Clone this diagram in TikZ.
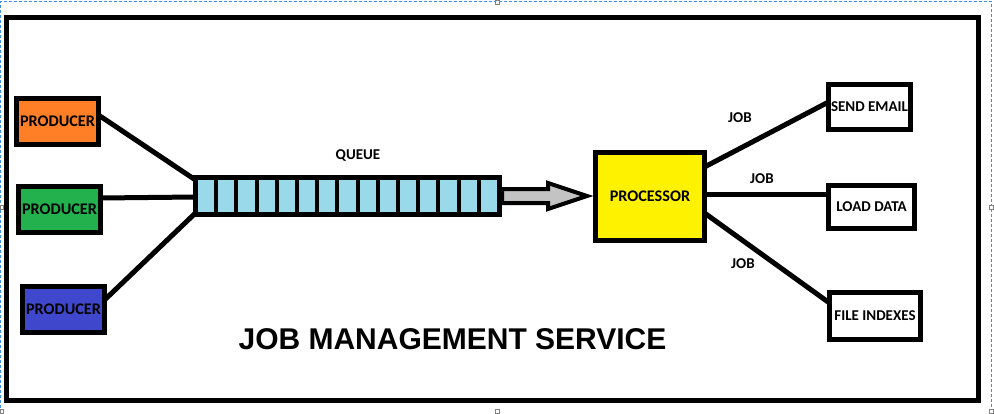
\documentclass[tikz,border=0pt]{standalone}
\usepackage{fontspec}
\newfontfamily\labelfont{Carlito}
\newfontfamily\titlefont{Liberation Sans}
\definecolor{porange}{HTML}{FF7F27}
\definecolor{pgreen}{HTML}{22B14C}
\definecolor{pblue}{HTML}{3F48CC}
\definecolor{pqueue}{HTML}{99D9EA}
\definecolor{pyellow}{HTML}{FFF200}
\definecolor{pgrey}{HTML}{C3C3C3}
\definecolor{selblue}{HTML}{3C8FE6}
\begin{document}
\begin{tikzpicture}[x=1pt,y=-1pt,
  box/.style={draw=black, line width=5pt, rectangle, inner sep=0pt, outer sep=0pt,
    font=\labelfont\bfseries\fontsize{15}{18}\selectfont},
  bigtext/.style={font=\labelfont\bfseries\fontsize{16.2}{19}\selectfont},
  lbl/.style={inner sep=0pt, font=\labelfont\bfseries\fontsize{15}{18}\selectfont},
  link/.style={line width=5pt},
  divider/.style={line width=4pt},
  arrowbody/.style={draw=black, line width=4pt, fill=pgrey, line join=miter},
  selframe/.style={draw=selblue, line width=0.8pt, dash pattern=on 3pt off 2pt},
  handle/.style={draw=gray, line width=0.6pt, fill=white}]
\useasboundingbox (0,0) rectangle (994,413);
\fill[white] (0,0) rectangle (994,413);
% selection frame of the editor
\draw[selframe] (0.8,413) -- (0.8,1) -- (991,1) -- (991,413);
\draw[handle] (495,0) rectangle (499,4);
\draw[handle] (0,205) rectangle (3,209);
\draw[handle] (989,205) rectangle (993,209);
\draw[handle] (495,409) rectangle (499,413);
\draw[handle] (0,409) rectangle (3,413);
\draw[handle] (989,409) rectangle (993,413);
% outer frame
\draw[line width=5pt] (6.5,17.5) rectangle (978.5,400.5);
% producers
\node[box, bigtext, fill=porange, minimum width=82pt, minimum height=46pt] (orange) at (57.5,121.5) {PRODUCER};
\node[box, bigtext, fill=pgreen, minimum width=82pt, minimum height=46pt] (green) at (59.5,209.5) {PRODUCER};
\node[box, bigtext, fill=pblue, minimum width=82pt, minimum height=46pt] (blue) at (63.5,309.5) {PRODUCER};
% queue
\node[box, fill=pqueue, minimum width=304pt, minimum height=37pt] (queue) at (347.5,196) {};
\foreach \k in {1,...,14}
  \draw[divider] ([xshift={0.5pt+20.2pt*\k}]queue.north west) -- ([xshift={0.5pt+20.2pt*\k}]queue.south west);
\node[lbl] (qlabel) at (358,156) {QUEUE};
% processor
\node[box, bigtext, fill=pyellow, minimum width=109pt, minimum height=88pt] (proc) at (650,196.5) {PROCESSOR};
% arrow queue -> processor
\draw[arrowbody] ([shift={(2.5,-7)}]queue.east) -- ++(46,0) -- ++(0,-6) -- ++(39,13) -- ++(-39,13) -- ++(0,-6) -- ++(-46,0) -- cycle;
% jobs
\node[box, fill=white, minimum width=82pt, minimum height=45pt] (email) at (869.5,107) {SEND EMAIL};
\node[box, fill=white, minimum width=86pt, minimum height=43pt] (load) at (871.5,207) {LOAD DATA};
\node[box, fill=white, minimum width=91pt, minimum height=47pt] (files) at (875,316) {FILE INDEXES};
% connectors
\draw[link] ([yshift=6.5pt]orange.east) -- ([yshift=16pt]queue.west);
\draw[link] ([yshift=11.5pt]green.east) -- ([yshift=-1pt]queue.west);
\draw[link] ([yshift=9.5pt]blue.east) -- ([yshift=-17pt]queue.west);
\draw[link] ([yshift=29.5pt]proc.east) -- ([yshift=5pt]email.west);
\draw[link] ([yshift=2.5pt]proc.east) -- ([yshift=13pt]load.west);
\draw[link] ([yshift=-16.5pt]proc.east) -- ([yshift=13pt]files.west);
\node[lbl] (job1) at (740,118) {JOB};
\node[lbl] (job2) at (762,179) {JOB};
\node[lbl] (job3) at (743,264) {JOB};
% title
\node[inner sep=0pt, font=\titlefont\bfseries\fontsize{30}{36}\selectfont] (title) at (452.5,339) {JOB MANAGEMENT SERVICE};
\end{tikzpicture}
\end{document}
